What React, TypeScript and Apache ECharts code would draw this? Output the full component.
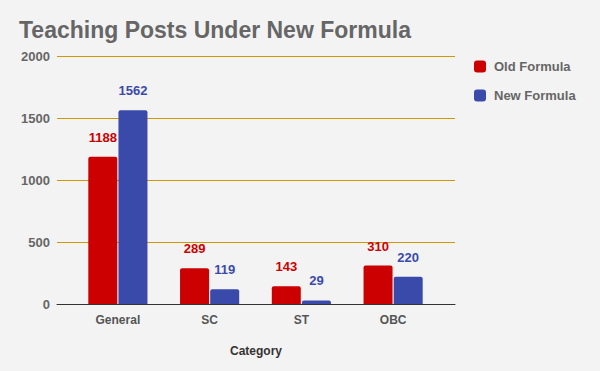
import React, { useEffect, useRef } from "react";
import * as echarts from "echarts";

const categories = ["General", "SC", "ST", "OBC"];
const oldFormula = [1188, 289, 143, 310];
const newFormula = [1562, 119, 29, 220];
const seriesNames = ["Old Formula", "New Formula"];
const yMin = 0;
const yMax = 2000;
const yInterval = 500;

const FONT = "'Liberation Sans', Arial, sans-serif";

export default function App() {
  const ref = useRef<HTMLDivElement>(null);
  useEffect(() => {
    if (!ref.current) return;
    const chart = echarts.init(ref.current, undefined, { renderer: "svg" });
    const labelStyle = (color: string) => ({
      show: true,
      position: "top" as const,
      distance: 13,
      color,
      fontFamily: FONT,
      fontWeight: "bold" as const,
      fontSize: 13,
    });
    chart.setOption({
      animation: false,
      backgroundColor: "#f3f3f3",
      textStyle: { fontFamily: FONT },
      title: {
        text: "Teaching Posts Under New Formula",
        left: 14,
        top: 13,
        textStyle: { color: "#666666", fontSize: 23, fontWeight: "bold", fontFamily: FONT },
      },
      legend: {
        orient: "vertical",
        left: 474,
        top: 60,
        padding: 0,
        itemWidth: 12,
        itemHeight: 12,
        itemGap: 16,
        icon: "roundRect",
        data: seriesNames,
        textStyle: { color: "#666666", fontSize: 13, fontWeight: "bold", fontFamily: FONT, padding: [0, 0, 0, 3] },
      },
      grid: [
        { left: 57, right: 145, top: 56, bottom: 67 },
        { left: 72, right: 161, top: 56, bottom: 67 },
      ],
      xAxis: [
        {
          type: "value",
          gridIndex: 0,
          min: 0,
          max: 1,
          axisLabel: { show: false },
          axisTick: { show: false },
          splitLine: { show: false },
          axisLine: { show: true, onZero: false, lineStyle: { color: "#333333", width: 1 } },
          name: "Category",
          nameLocation: "middle",
          nameGap: 41,
          nameTextStyle: { color: "#333333", fontSize: 12, fontWeight: "bold", fontFamily: FONT },
        },
        {
          type: "category",
          gridIndex: 1,
          data: categories,
          axisLine: { show: false },
          axisTick: { show: false },
          axisLabel: { color: "#555555", fontSize: 12, fontWeight: "bold", fontFamily: FONT, margin: 10 },
        },
      ],
      yAxis: [
        {
          type: "value",
          gridIndex: 0,
          min: yMin,
          max: yMax,
          interval: yInterval,
          axisLine: { show: false },
          axisTick: { show: false },
          axisLabel: {
            color: "#666666",
            fontSize: 13,
            fontWeight: "bold",
            fontFamily: FONT,
            margin: 7,
            formatter: (v: number) => String(v),
          },
          splitLine: { show: true, lineStyle: { color: "#cc9900", width: 1 } },
        },
        {
          type: "value",
          gridIndex: 1,
          min: yMin,
          max: yMax,
          interval: yInterval,
          show: false,
          splitLine: { show: false },
        },
      ],
      series: [
        {
          name: seriesNames[0],
          type: "bar",
          xAxisIndex: 1,
          yAxisIndex: 1,
          data: oldFormula,
          barWidth: 29,
          barGap: "4%",
          itemStyle: { color: "#cc0000", borderRadius: [2, 2, 0, 0] },
          label: labelStyle("#cc0000"),
        },
        {
          name: seriesNames[1],
          type: "bar",
          xAxisIndex: 1,
          yAxisIndex: 1,
          data: newFormula,
          barWidth: 29,
          barGap: "4%",
          itemStyle: { color: "#3a4aab", borderRadius: [2, 2, 0, 0] },
          label: labelStyle("#3a4aab"),
        },
      ],
    });
    return () => chart.dispose();
  }, []);
  return (
    <div
      ref={ref}
      style={{ position: "absolute", left: 0, top: 0, width: 600, height: 371 }}
    />
  );
}
